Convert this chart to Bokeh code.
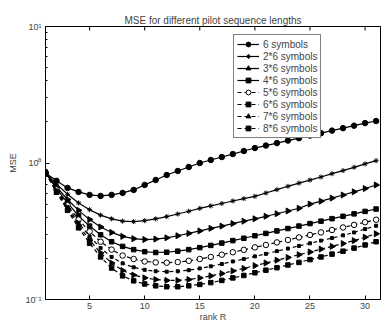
import numpy as np
from bokeh.plotting import figure
from bokeh.models import Range1d, FixedTicker, Legend, LegendItem
from bokeh.embed import file_html
from bokeh.resources import INLINE

# ---------------- data ----------------
rank = list(range(1, 32))
labels = ["6 symbols", "2*6 symbols", "3*6 symbols", "4*6 symbols",
          "5*6 symbols", "6*6 symbols", "7*6 symbols", "8*6 symbols"]

mse_6 = [0.845, 0.74, 0.657, 0.614, 0.584, 0.574, 0.584, 0.604, 0.635, 0.691,
         0.751, 0.817, 0.874, 0.935, 1.0, 1.052, 1.106, 1.163, 1.224, 1.287,
         1.342, 1.40, 1.46, 1.52, 1.588, 1.655, 1.727, 1.80, 1.877, 1.96, 2.03]
mse_12 = [0.845, 0.70, 0.59, 0.51, 0.455, 0.415, 0.39, 0.375, 0.372, 0.378,
          0.39, 0.405, 0.423, 0.443, 0.465, 0.485, 0.505, 0.527, 0.548, 0.57,
          0.603, 0.638, 0.675, 0.712, 0.75, 0.79, 0.835, 0.88, 0.93, 0.985, 1.04]
mse_18 = [0.845, 0.67, 0.54, 0.45, 0.385, 0.34, 0.31, 0.29, 0.279, 0.275,
          0.277, 0.283, 0.293, 0.305, 0.318, 0.332, 0.345, 0.36, 0.375, 0.39,
          0.407, 0.425, 0.445, 0.466, 0.50, 0.525, 0.553, 0.583, 0.615, 0.65, 0.69]
mse_24 = [0.845, 0.65, 0.51, 0.41, 0.345, 0.298, 0.265, 0.245, 0.232, 0.224,
          0.221, 0.222, 0.226, 0.232, 0.24, 0.249, 0.259, 0.27, 0.281, 0.293,
          0.305, 0.318, 0.331, 0.345, 0.36, 0.375, 0.391, 0.407, 0.424, 0.442, 0.46]
mse_30 = [0.845, 0.64, 0.49, 0.385, 0.315, 0.265, 0.232, 0.21, 0.198, 0.19,
          0.187, 0.186, 0.188, 0.192, 0.198, 0.205, 0.213, 0.222, 0.231, 0.241,
          0.251, 0.262, 0.273, 0.285, 0.297, 0.31, 0.323, 0.337, 0.352, 0.368, 0.384]
mse_36 = [0.845, 0.63, 0.475, 0.365, 0.29, 0.238, 0.205, 0.184, 0.172, 0.165,
          0.161, 0.16, 0.161, 0.164, 0.169, 0.175, 0.182, 0.19, 0.198, 0.207,
          0.216, 0.226, 0.236, 0.247, 0.258, 0.27, 0.282, 0.295, 0.31, 0.328, 0.347]
mse_42 = [0.845, 0.62, 0.46, 0.35, 0.272, 0.219, 0.185, 0.163, 0.151, 0.144,
          0.14, 0.138, 0.138, 0.14, 0.144, 0.149, 0.155, 0.162, 0.169, 0.177,
          0.185, 0.194, 0.203, 0.213, 0.223, 0.234, 0.245, 0.257, 0.27, 0.286, 0.303]
mse_48 = [0.845, 0.61, 0.45, 0.335, 0.258, 0.205, 0.17, 0.149, 0.137, 0.13,
          0.126, 0.124, 0.124, 0.126, 0.129, 0.133, 0.138, 0.144, 0.15, 0.157,
          0.164, 0.171, 0.179, 0.187, 0.196, 0.205, 0.215, 0.226, 0.238, 0.251, 0.265]

series = [mse_6, mse_12, mse_18, mse_24, mse_30, mse_36, mse_42, mse_48]

x_ticks = [5, 10, 15, 20, 25, 30]
y_ticks = [0.1, 1, 10]
y_minor = [0.2, 0.3, 0.4, 0.5, 0.6, 0.7, 0.8, 0.9, 2, 3, 4, 5, 6, 7, 8, 9]
y_tick_labels = {0.1: "10\u207b\u00b9", 1: "10\u2070", 10: "10\u00b9"}

# ---------------- styles ----------------
FONT = "Liberation Sans"
styles = [
    dict(dash="solid", marker="circle", size=5.5, fill="black", angle=0.0),
    dict(dash="solid", marker="asterisk", size=5, fill="black", angle=0.0),
    dict(dash="solid", marker="triangle", size=6, fill="black", angle=-np.pi / 2),
    dict(dash="solid", marker="square", size=4.5, fill="black", angle=0.0),
    dict(dash="4 3", marker="circle", size=5.5, fill="white", angle=0.0),
    dict(dash="4 3", marker="square", size=3, fill="black", angle=0.0),
    dict(dash="4 3", marker="triangle", size=6, fill="black", angle=-np.pi / 2),
    dict(dash="4 3", marker="square", size=4.5, fill="black", angle=0.0),
]

p = figure(width=381, height=324, y_axis_type="log",
           x_range=Range1d(1, 31.4), y_range=Range1d(0.1, 10),
           output_backend="svg", toolbar_location=None,
           title="MSE for different pilot sequence lengths",
           min_border_left=45, min_border_right=1, min_border_top=26,
           min_border_bottom=25)

p.title.text_font = FONT
p.title.text_font_size = "10px"
p.title.text_font_style = "normal"
p.title.align = "center"
p.title.offset = 0
p.title.standoff = 1
p.title.padding = (0, 0, 5, 0)

p.grid.visible = False
p.outline_line_color = "black"
p.outline_line_width = 1
p.background_fill_color = "white"
p.border_fill_color = "white"

# x axis
xa = p.xaxis[0]
xa.ticker = FixedTicker(ticks=x_ticks, minor_ticks=[])
xa.axis_label = "rank R"
xa.axis_label_text_font = FONT
xa.axis_label_text_font_size = "9px"
xa.axis_label_text_font_style = "normal"
xa.axis_label_standoff = 0
xa.major_label_text_font = FONT
xa.major_label_text_font_size = "9px"
xa.major_label_standoff = 3
xa.major_tick_in = 4
xa.major_tick_out = 0
xa.axis_line_color = "black"

# y axis
ya = p.yaxis[0]
ya.ticker = FixedTicker(ticks=y_ticks, minor_ticks=y_minor)
ya.major_label_overrides = y_tick_labels
ya.axis_label = "MSE"
ya.axis_label_text_font = FONT
ya.axis_label_text_font_size = "9px"
ya.axis_label_text_font_style = "normal"
ya.axis_label_standoff = 4
ya.major_label_text_font = FONT
ya.major_label_text_font_size = "9px"
ya.major_label_standoff = 4
ya.major_tick_in = 4
ya.major_tick_out = 0
ya.minor_tick_in = 2
ya.minor_tick_out = 0

# tick marks along the top edge of the box
p.segment(x0=x_ticks, y0=[10] * len(x_ticks), x1=x_ticks,
          y1=[10 / 1.07] * len(x_ticks), line_color="black", line_width=1)

items = []
for lab, ys, st in zip(labels, series, styles):
    ln = p.line(rank, ys, line_color="black", line_width=1.2,
                line_dash=st["dash"])
    sc = p.scatter(rank, ys, marker=st["marker"], size=st["size"],
                   fill_color=st["fill"], line_color="black", line_width=1,
                   angle=st["angle"])
    items.append(LegendItem(label=lab, renderers=[ln, sc]))

legend = Legend(items=items, location=(188, 161))
legend.label_text_font = FONT
legend.label_text_font_size = "10px"
legend.label_height = 12
legend.glyph_height = 12
legend.glyph_width = 22
legend.spacing = 0
legend.padding = 3
legend.margin = 0
legend.label_standoff = 4
legend.border_line_color = "black"
legend.border_line_width = 1
legend.background_fill_alpha = 1
p.add_layout(legend, "center")

open("out.html", "w").write(file_html(p, INLINE))
